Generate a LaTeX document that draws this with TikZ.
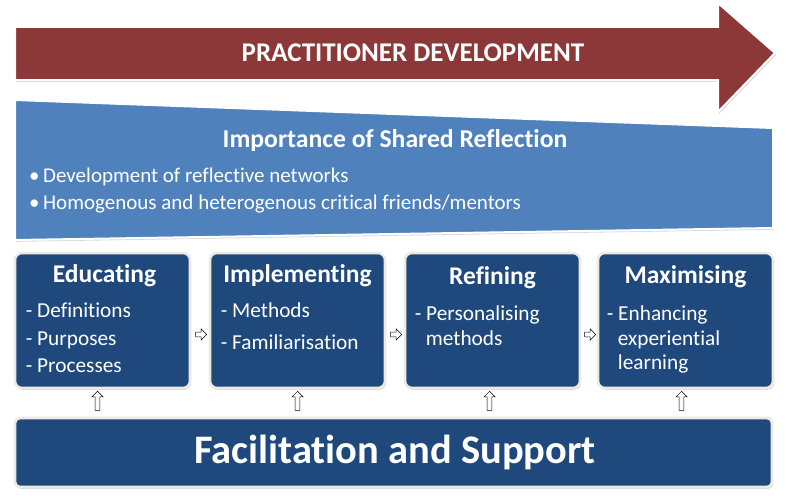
\documentclass[tikz,border=0pt]{standalone}
\usepackage{fontspec}
\setmainfont{Carlito}[Ligatures=NoCommon]
\usetikzlibrary{positioning,calc,shapes.arrows,shadows}
\definecolor{devred}{RGB}{140,56,56}
\definecolor{reflblue}{RGB}{79,129,189}
\definecolor{stageblue}{RGB}{31,73,125}
\definecolor{rim}{RGB}{236,234,226}
\tikzset{
  softshadow/.style={drop shadow={opacity=0.3, shadow xshift=1.2pt, shadow yshift=-1.8pt}},
  stage/.style={draw=rim, line width=2.6pt, rounded corners=7pt, fill=stageblue, softshadow,
              minimum width=175pt, minimum height=135pt, inner sep=0pt},
  stagetitle/.style={text=white, font=\fontsize{25.5}{28}\selectfont\bfseries, inner sep=0pt},
  stageitem/.style={text=white, font=\fontsize{21.3}{27.5}\selectfont, align=left,
              inner sep=0pt, anchor=north west},
  nudge/.style={shape=single arrow, draw=black, fill=white, line width=0.5pt,
              single arrow head extend=2pt, minimum height=11pt, minimum width=11pt, inner sep=1.2pt},
  lift/.style={nudge, shape border rotate=90, minimum height=19pt},
}

\begin{document}
\begin{tikzpicture}[x=1pt,y=-1pt]
    \useasboundingbox (0,0) rectangle (786,495);
    % practitioner development arrow
    \filldraw[devred, draw=white, line width=2pt, softshadow]
      (15,27) -- (718,27) -- (718,3) -- (775,53) -- (718,112) -- (718,80) -- (15,80) -- cycle;
    \node[text=white, font=\fontsize{27}{30}\selectfont\bfseries] (devtext) at (413,53) {PRACTITIONER DEVELOPMENT};
    % shared reflection banner
    \filldraw[reflblue, draw=white, line width=2pt, softshadow]
      (15,100) -- (773,128) -- (773,228) -- (15,240) -- cycle;
    \node[text=white, font=\fontsize{25.7}{29}\selectfont\bfseries] (refltitle) at (395,141) {Importance of Shared Reflection};
    \node[text=white, font=\fontsize{21}{27}\selectfont, align=left, anchor=west, inner sep=0pt] (reflitems) at (29,191)
      {\textbullet\,Development of reflective networks\\\textbullet\,Homogenous and heterogenous critical friends/mentors};
    % four stages
    \node[stage] (edu) at (102.5,320.5) {};
    \node[stage, right=17.4pt of edu] (impl) {};
    \node[stage, right=17.4pt of impl] (refi) {};
    \node[stage, right=15.4pt of refi] (maxi) {};
    \node[stagetitle] (edutitle)  at ($(edu.north)+(2,24)$)  {Educating};
    \node[stagetitle] (impltitle) at ($(impl.north)+(0,24)$) {Implementing};
    \node[stagetitle] (refititle) at ($(refi.north)+(0,26)$) {Refining};
    \node[stagetitle] (maxititle) at ($(maxi.north)+(0,25)$) {Maximising};
    \node[stageitem] (eduitems)  at ($(edu.north west)+(12,51)$)  {- Definitions\\- Purposes\\- Processes};
    \node[stageitem] (implitems) at ($(impl.north west)+(12,51)$) {- Methods\\[4pt]- Familiarisation};
    \node[stageitem, font=\fontsize{21.3}{25}\selectfont] (refiitems) at ($(refi.north west)+(11,54)$)
      {- Personalising\\\hspace*{11pt}methods};
    \node[stageitem, font=\fontsize{21.3}{24.5}\selectfont] (maxiitems) at ($(maxi.north west)+(10,54)$)
      {- Enhancing\\\hspace*{11pt}experiential\\\hspace*{11pt}learning};
    % facilitation bar
    \node[stage, minimum width=757pt, minimum height=69pt, rounded corners=5pt] (facil) at (393.5,452.5) {};
    \node[text=white, font=\fontsize{40.5}{44}\selectfont\bfseries] (faciltext) at (395,452) {Facilitation and Support};
    % small connecting arrows
    \node[nudge] (go1) at ($(edu.east)!0.5!(impl.west)+(0,14)$) {};
    \node[nudge] (go2) at ($(impl.east)!0.5!(refi.west)+(0,14)$) {};
    \node[nudge] (go3) at ($(refi.east)!0.5!(maxi.west)+(0,14)$) {};
    \foreach \s/\dx in {edu/-5,impl/0,refi/-3,maxi/-4}
      \node[lift] (up\s) at ($(\s.south)!0.5!(\s.south|-facil.north)+(\dx,-1)$) {};
\end{tikzpicture}
\end{document}
